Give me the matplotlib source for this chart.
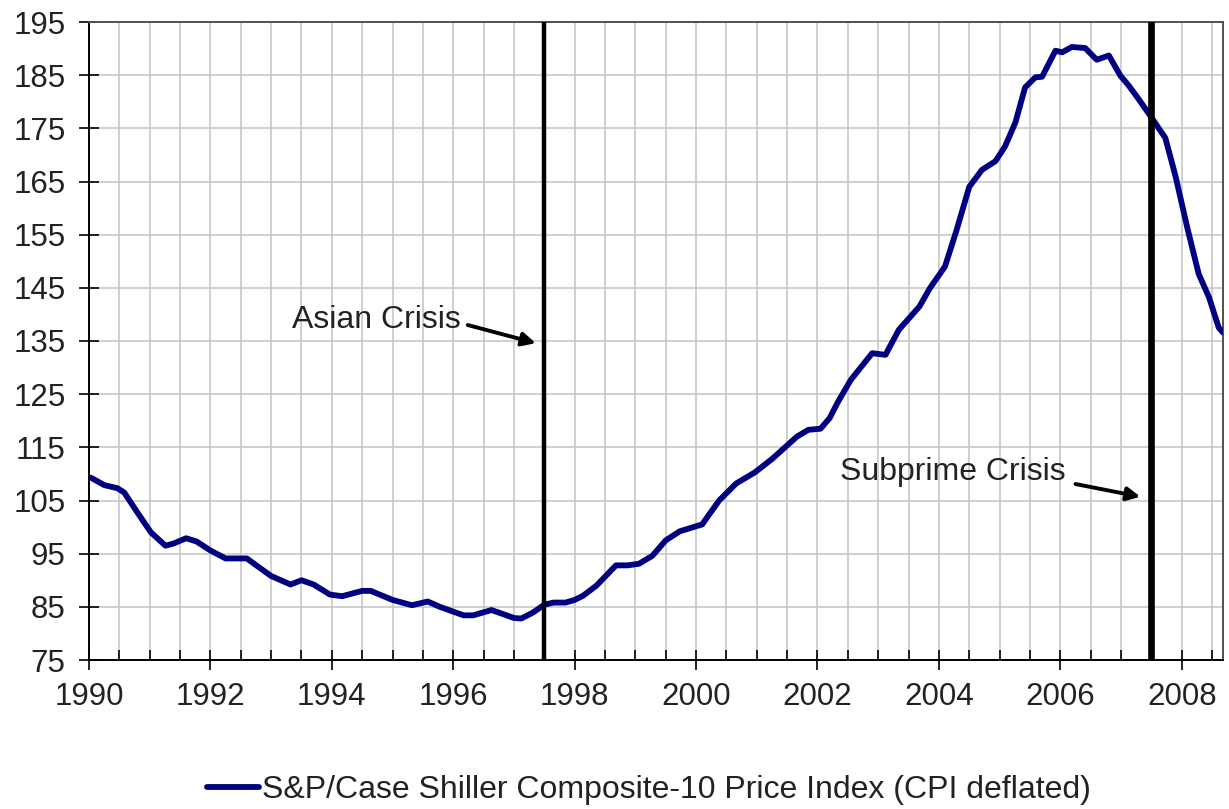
import numpy as np
import matplotlib
matplotlib.use("Agg")
import matplotlib.pyplot as plt
from matplotlib.ticker import MultipleLocator

plt.rcParams['font.family'] = ['Liberation Sans', 'DejaVu Sans']

# (decimal year, index value)
years = [1990.03, 1990.25, 1990.47, 1990.58, 1990.8, 1991.02, 1991.26, 1991.39, 1991.6, 1991.77,
         1992.0, 1992.25, 1992.6, 1992.78, 1993.0, 1993.32, 1993.5, 1993.7, 1993.97, 1994.17,
         1994.5, 1994.64, 1995.0, 1995.32, 1995.58, 1995.78, 1996.17, 1996.33, 1996.63, 1996.83,
         1997.0, 1997.12, 1997.31, 1997.5, 1997.65, 1997.85, 1998.0, 1998.14, 1998.36, 1998.68,
         1998.87, 1999.06, 1999.28, 1999.5, 1999.73, 2000.1, 2000.38, 2000.66, 2000.97, 2001.25,
         2001.66, 2001.85, 2002.05, 2002.2, 2002.34, 2002.55, 2002.9, 2003.12, 2003.34, 2003.68,
         2003.85, 2004.1, 2004.29, 2004.5, 2004.71, 2004.93, 2005.09, 2005.26, 2005.42, 2005.59,
         2005.7, 2005.92, 2006.03, 2006.19, 2006.41, 2006.6, 2006.8, 2006.99, 2007.13, 2007.29,
         2007.48, 2007.73, 2007.9, 2008.09, 2008.28, 2008.45, 2008.61, 2008.68]
index = [109.3, 107.9, 107.3, 106.5, 102.7, 99.0, 96.5, 96.9, 97.9, 97.3,
         95.6, 94.1, 94.1, 92.6, 90.8, 89.2, 90.0, 89.2, 87.3, 87.0,
         88.0, 88.0, 86.3, 85.3, 86.0, 85.0, 83.4, 83.4, 84.4, 83.6,
         82.9, 82.8, 83.9, 85.4, 85.8, 85.8, 86.3, 87.1, 89.0, 92.8,
         92.8, 93.1, 94.6, 97.5, 99.2, 100.5, 105.0, 108.2, 110.3, 112.8,
         117.0, 118.3, 118.5, 120.5, 123.6, 127.7, 132.7, 132.4, 137.1, 141.5,
         144.9, 149.0, 155.8, 164.0, 167.2, 168.8, 171.6, 176.1, 182.7, 184.6,
         184.7, 189.6, 189.3, 190.3, 190.1, 187.9, 188.7, 184.9, 183.0, 180.5,
         177.4, 173.2, 165.9, 156.4, 147.6, 143.2, 137.5, 136.6]

crisis_years = [1997.5, 2007.5]
crisis_labels = ["Asian Crisis", "Subprime Crisis"]
label_xy = [(1993.35, 139.0), (2002.37, 110.4)]
arrow_tail = [(1996.24, 138.0), (2006.25, 108.1)]
arrow_tip = [(1997.36, 134.6), (2007.32, 105.7)]

legend_label = "S&P/Case Shiller Composite-10 Price Index (CPI deflated)"

fig = plt.figure(figsize=(12.29, 8.09), dpi=100)
ax = fig.add_axes([89/1229, 1-660/809, (1223-89)/1229, (660-22)/809])

ax.plot(years, index, color='#000080', lw=4.2, solid_joinstyle='round',
        solid_capstyle='round', label=legend_label, zorder=3)

ax.axvline(crisis_years[0], color='black', lw=3.2, zorder=4)
ax.axvline(crisis_years[1], color='black', lw=4.8, zorder=4)

for txt, (tx, ty), tail, tip in zip(crisis_labels, label_xy, arrow_tail, arrow_tip):
    ax.text(tx, ty, txt, fontsize=23, color='#222222', va='center', ha='left', zorder=5)
    ax.annotate("", xy=tip, xytext=tail,
                arrowprops=dict(arrowstyle='-|>', color='black', lw=2.8,
                                mutation_scale=20, shrinkA=0, shrinkB=0), zorder=5)

ax.set_xlim(1990, 2008.68)
ax.set_ylim(75, 195)
ax.set_yticks(np.arange(75, 196, 10))
ax.xaxis.set_major_locator(MultipleLocator(2))
ax.xaxis.set_minor_locator(MultipleLocator(0.5))
ax.grid(which='both', axis='x', color='#c8c8c8', lw=1.2, zorder=0)
ax.grid(which='major', axis='y', color='#c8c8c8', lw=1.2, zorder=0)
ax.set_axisbelow(True)

ax.tick_params(axis='both', which='major', direction='inout', length=14, width=1.2,
               labelsize=22.5, labelcolor='#222222', color='black')
ax.tick_params(axis='y', which='major', pad=10)
ax.tick_params(axis='x', which='major', pad=9)
ax.tick_params(axis='x', which='minor', direction='in', length=7, width=1.2, color='black')

for s in ['left', 'bottom']:
    ax.spines[s].set_color('black')
    ax.spines[s].set_linewidth(1.4)
for s in ['top', 'right']:
    ax.spines[s].set_color('#505050')
    ax.spines[s].set_linewidth(1.4)

fig.legend(loc='center', bbox_to_anchor=(649/1229, 1-790/809), frameon=False,
           fontsize=23, handlelength=1.6, handletextpad=0.1, labelcolor='#222222')

fig.savefig("out.png", dpi=100)
